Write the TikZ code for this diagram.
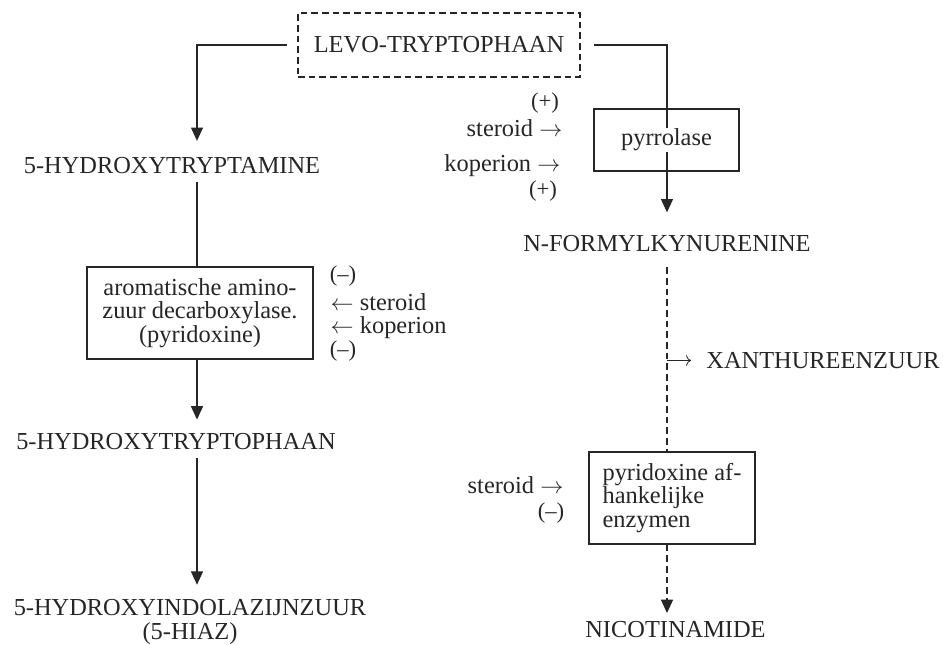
\documentclass[tikz,border=0pt]{standalone}
\usepackage{fontspec}
\setmainfont{Liberation Serif}
\usetikzlibrary{arrows.meta}
\definecolor{ink}{HTML}{262626}

\begin{document}
\begin{tikzpicture}[x=0.75pt,y=-0.75pt,
    every node/.style={text=ink,font=\fontsize{18.3}{17.5}\selectfont},
    stof/.style={inner ysep=6pt},
    enzym/.style={draw=ink,line width=1.2pt,align=center,inner sep=2pt},
    regel/.style={inner ysep=0.5pt},
    teken/.style={font=\fontsize{17}{17}\selectfont,inner sep=0pt},
    lijn/.style={draw=ink,line width=0.9pt},
    pijl/.style={lijn,-{Triangle[length=10pt,width=9pt]}},
    stippel/.style={dash pattern=on 5pt off 3pt}]
  \fill[white] (0,0) rectangle (943,645);
  \useasboundingbox (0,0) rectangle (943,645);
  \coordinate (as) at (197,0);

  % linker tak
  \node[enzym,stippel,minimum width=211.5pt,minimum height=48pt] (levo) at (439,45) {LEVO-TRYPTOPHAAN};
  \node[stof] (htam) at (172,166) {5-HYDROXYTRYPTAMINE};
  \node[enzym,minimum width=169.5pt,minimum height=69pt] (aadc) at (200,313) {aromatische amino-\\zuur decarboxylase.\\(pyridoxine)};
  \node[stof] (htp) at (176,442) {5-HYDROXYTRYPTOPHAAN};
  \node[stof,align=center] (hiaa) at (190,622) {5-HYDROXYINDOLAZIJNZUUR\\(5-HIAZ)};

  \node[teken] (m1) at (343,276) {(–)};
  \node[regel,anchor=west] (st2) at (326,302) {$\leftarrow$ steroid};
  \node[regel,anchor=west] (ko2) at (326,327.5) {$\leftarrow$ koperion};
  \node[teken] (m2) at (343,351) {(–)};

  % rechter tak
  \node[stof] (nfk) at (667,243.5) {N-FORMYLKYNURENINE};
  \node[stof] (xan) at (823,360.5) {XANTHUREENZUUR};
  \node[enzym,align=left,minimum width=124.5pt,minimum height=69pt] (pde) at (672,498) {pyridoxine af-\\hankelijke\\enzymen};
  \node[stof] (nic) at (675.5,629.5) {NICOTINAMIDE};

  \node[teken] (p1) at (545,103) {(+)};
  \node[regel,anchor=east] (st1) at (567,128) {steroid $\rightarrow$};
  \node[regel,anchor=east] (ko1) at (565,166) {koperion $\rightarrow$};
  \node[teken] (p2) at (543,191) {(+)};
  \node[regel,anchor=east] (st3) at (568,485) {steroid $\rightarrow$};
  \node[teken] (m3) at (551,513.5) {(–)};

  \draw[pijl,shorten <=8pt,shorten >=6.5pt] (levo.west) -| (htam.north -| as);
  \draw[lijn] (htam.south -| as) -- (aadc.north -| as);
  \draw[pijl,shorten >=4.5pt] (aadc.south -| as) -- (htp.north -| as);
  \draw[pijl,shorten >=5pt] (htp.south -| as) -- (hiaa.north -| as);

  \draw[pijl,shorten <=10pt,shorten >=11pt] (levo.east) -| (nfk.north);
  \node[enzym,minimum width=108.75pt,minimum height=46.5pt] (pyr) at (666.5,140) {};
  \node[fill=white,inner sep=1pt] (pyrtekst) at (pyr.center) {pyrrolase};
  \draw[lijn,stippel,shorten <=5.5pt] (nfk.south) -- (pde.north -| nfk);
  \draw[lijn,line width=0.6pt,-{Computer Modern Rightarrow[scale=1.3]},shorten >=8pt] (nfk.south |- xan.west) -- (xan.west);
  \draw[pijl,stippel] (pde.south -| nfk) -- (nic.north -| nfk);
\end{tikzpicture}
\end{document}
